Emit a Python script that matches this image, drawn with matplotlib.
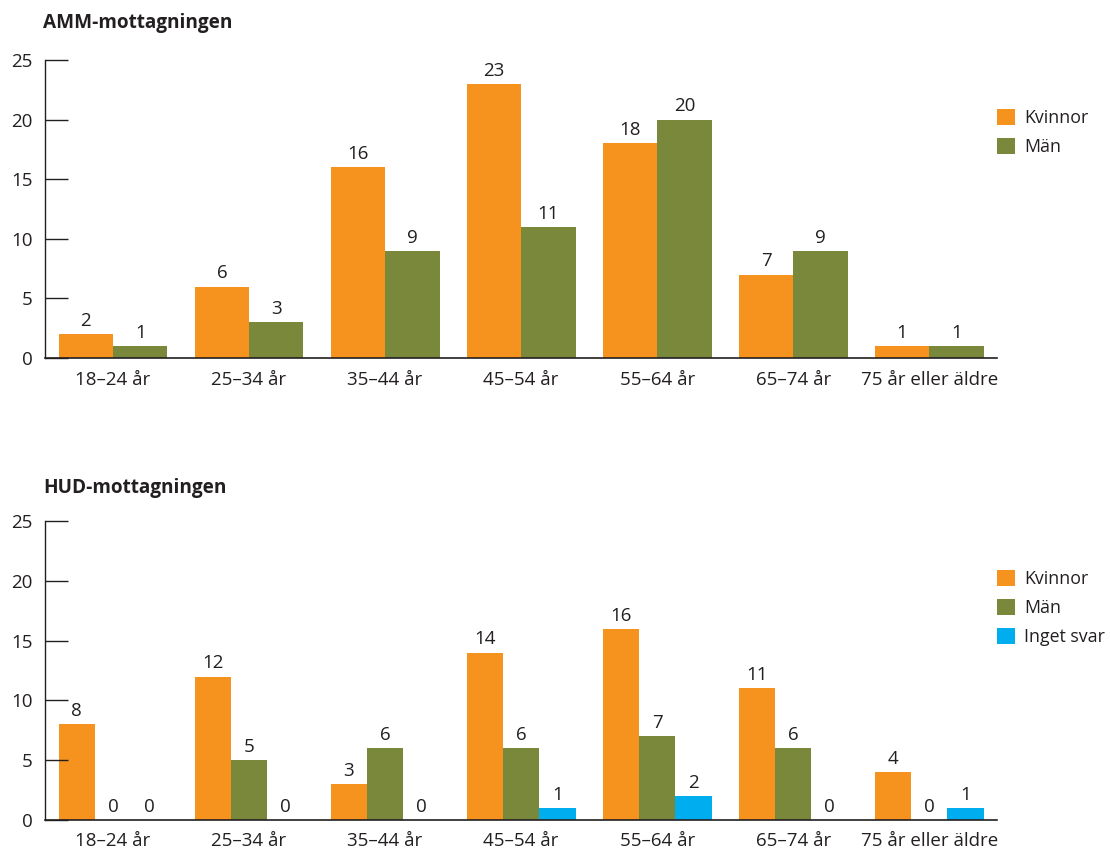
import numpy as np
import matplotlib.pyplot as plt

plt.rcParams['font.family'] = ['Open Sans', 'DejaVu Sans']

age_groups = ['18–24 år', '25–34 år', '35–44 år', '45–54 år', '55–64 år', '65–74 år', '75 år eller äldre']

amm_kvinnor = [2, 6, 16, 23, 18, 7, 1]
amm_man = [1, 3, 9, 11, 20, 9, 1]

hud_kvinnor = [8, 12, 3, 14, 16, 11, 4]
hud_man = [0, 5, 6, 6, 7, 6, 0]
hud_inget = [0, 0, 0, 1, 2, 0, 1]

yticks = [0, 5, 10, 15, 20, 25]

ORANGE = '#F6921E'
GREEN = '#7A883B'
BLUE = '#00AEEF'
TEXT = '#231F20'
FS = 13.5


def draw_panel(ax, series, labels, colors, legend_y):
    n = len(series)
    x = np.arange(len(age_groups))
    w = 0.8 / n
    for i, (vals, lab, col) in enumerate(zip(series, labels, colors)):
        pos = x - 0.4 + w / 2 + i * w
        bars = ax.bar(pos, vals, width=w, color=col, label=lab, linewidth=0)
        ax.bar_label(bars, labels=[str(v) for v in vals], padding=3,
                     fontsize=FS, color=TEXT)

    ax.set_xlim(-0.5, 6.5)
    ax.set_ylim(0, 25)
    ax.set_yticks(yticks)
    ax.set_xticks(x)
    ax.set_xticklabels(age_groups)
    ax.tick_params(axis='y', direction='in', length=16.5, width=1.0,
                   color=TEXT, pad=9, labelsize=FS, labelcolor=TEXT)
    ax.tick_params(axis='x', length=0, pad=9, labelsize=FS, labelcolor=TEXT)
    for s in ['top', 'right']:
        ax.spines[s].set_visible(False)
    ax.spines['left'].set_color(TEXT)
    ax.spines['left'].set_linewidth(1.0)
    ax.spines['bottom'].set_color(TEXT)
    ax.spines['bottom'].set_linewidth(1.2)

    ax.legend(loc='upper left', bbox_to_anchor=(0.898, legend_y),
              bbox_transform=ax.figure.transFigure, frameon=False,
              fontsize=12.8, handlelength=1.05, handleheight=1.05,
              handletextpad=0.5, labelspacing=0.6, borderpad=0,
              borderaxespad=0, labelcolor=TEXT)


fig = plt.figure(figsize=(11.1, 8.49), dpi=100)

ax1 = fig.add_axes([0.0405, 0.5783, 0.858, 0.351])
draw_panel(ax1, [amm_kvinnor, amm_man], ['Kvinnor', 'Män'], [ORANGE, GREEN], 0.872)
fig.text(0.039, 0.973, 'AMM-mottagningen', fontsize=13.7, fontweight='bold',
         color=TEXT, va='center', ha='left')

ax2 = fig.add_axes([0.0405, 0.0342, 0.858, 0.352])
draw_panel(ax2, [hud_kvinnor, hud_man, hud_inget], ['Kvinnor', 'Män', 'Inget svar'],
           [ORANGE, GREEN, BLUE], 0.329)
fig.text(0.039, 0.425, 'HUD-mottagningen', fontsize=13.7, fontweight='bold',
         color=TEXT, va='center', ha='left')

fig.savefig('out.png', dpi=100)
